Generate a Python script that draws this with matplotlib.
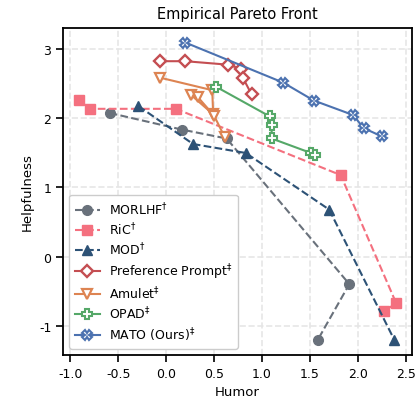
import matplotlib
matplotlib.use("Agg")
import matplotlib.pyplot as plt

plt.rcParams['axes.unicode_minus'] = False
plt.rcParams['font.family'] = 'DejaVu Sans'

# data (Humor, Helpfulness)
morlhf_x = [-0.59, 0.16, 0.63, 1.91, 1.58]
morlhf_y = [2.08, 1.84, 1.71, -0.40, -1.21]

ric_x = [-0.91, -0.80, 0.10, 1.82, 2.40, 2.27]
ric_y = [2.27, 2.14, 2.14, 1.18, -0.68, -0.79]

mod_x = [-0.29, 0.28, 0.83, 1.70, 2.38]
mod_y = [2.18, 1.63, 1.50, 0.68, -1.21]

pref_x = [-0.07, 0.20, 0.64, 0.78, 0.80, 0.89]
pref_y = [2.83, 2.83, 2.78, 2.72, 2.59, 2.35]

amulet_x = [-0.06, 0.48, 0.49, 0.26, 0.33, 0.50, 0.61]
amulet_y = [2.59, 2.41, 2.06, 2.34, 2.31, 2.04, 1.73]

opad_x = [0.52, 1.08, 1.10, 1.10, 1.51, 1.55]
opad_y = [2.46, 2.03, 1.91, 1.71, 1.50, 1.47]

mato_x = [0.20, 1.22, 1.54, 1.95, 2.06, 2.25]
mato_y = [3.10, 2.52, 2.26, 2.05, 1.86, 1.74]

fig = plt.figure(figsize=(4.18, 4.10), dpi=100)
ax = fig.add_axes([0.151, 0.132, 0.835, 0.798])

ax.plot(morlhf_x, morlhf_y, color='#69717b', ls='--', lw=1.5, marker='o', ms=7,
        label='MORLHF$^{\\dagger}$')
ax.plot(ric_x, ric_y, color='#f4707f', ls='--', lw=1.5, marker='s', ms=7,
        label='RiC$^{\\dagger}$')
ax.plot(mod_x, mod_y, color='#2d5276', ls='--', lw=1.5, marker='^', ms=7.5,
        label='MOD$^{\\dagger}$')
ax.plot(pref_x, pref_y, color='#c44e52', ls='-', lw=1.5, marker='D', ms=6.5,
        mfc='white', mew=1.7, label='Preference Prompt$^{\\ddagger}$')
ax.plot(amulet_x, amulet_y, color='#dd8452', ls='-', lw=1.5, marker='v', ms=7,
        mfc='white', mew=1.6, label='Amulet$^{\\ddagger}$')
ax.plot(opad_x, opad_y, color='#55a868', ls='-', lw=1.5, marker='P', ms=7,
        mfc='white', mew=1.5, label='OPAD$^{\\ddagger}$')
ax.plot(mato_x, mato_y, color='#4c72b0', ls='-', lw=1.5, marker='X', ms=7,
        mfc='white', mew=1.5, label='MATO (Ours)$^{\\ddagger}$')

ax.set_xticks([-1.0, -0.5, 0.0, 0.5, 1.0, 1.5, 2.0, 2.5])
ax.set_yticks([-1, 0, 1, 2, 3])
ax.tick_params(labelsize=9, width=1.2, length=5)
ax.grid(True, ls='--', color='#e6e6e6', lw=1.2)
ax.set_axisbelow(True)
for s in ax.spines.values():
    s.set_linewidth(1.3)

ax.set_xlabel('Humor', fontsize=9.5)
ax.set_ylabel('Helpfulness', fontsize=9.5)
ax.set_title('Empirical Pareto Front', fontsize=10.5, pad=7)

ax.legend(loc='lower left', fontsize=9, frameon=True, fancybox=True,
          edgecolor='#cccccc', framealpha=1.0, borderpad=0.45,
          labelspacing=0.3, handletextpad=0.7)

fig.savefig('out.png', dpi=100)
